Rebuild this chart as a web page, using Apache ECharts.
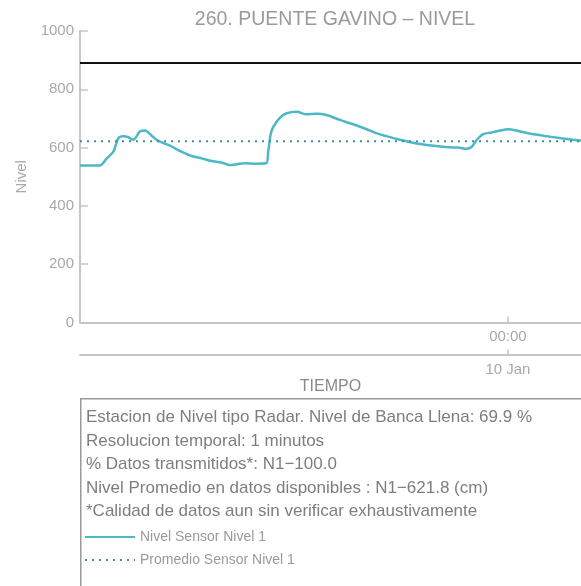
<!DOCTYPE html>
<html>
<head>
<meta charset="utf-8">
<script src="https://cdn.jsdelivr.net/npm/echarts@6/dist/echarts.min.js"></script>
<style>
html,body{margin:0;padding:0;background:#fff;}
#c{width:581px;height:586px;}
</style>
</head>
<body>
<div id="c"></div>
<script>
// ---- data ----
const chartTitle = '260. PUENTE GAVINO \u2013 NIVEL';
const timeMin = '2024-01-09 03:30';
const timeMax = '2024-01-10 03:30';
const levelTimes = [
  '2024-01-09 03:30','2024-01-09 04:27','2024-01-09 04:47','2024-01-09 05:06','2024-01-09 05:20',
  '2024-01-09 05:34','2024-01-09 05:49','2024-01-09 06:03','2024-01-09 06:22','2024-01-09 06:37',
  '2024-01-09 06:56','2024-01-09 07:15','2024-01-09 07:44','2024-01-09 08:22','2024-01-09 08:51',
  '2024-01-09 09:20','2024-01-09 09:48','2024-01-09 10:17','2024-01-09 10:41','2024-01-09 11:05',
  '2024-01-09 11:24','2024-01-09 11:53','2024-01-09 12:25','2024-01-09 12:31','2024-01-09 12:38',
  '2024-01-09 12:46','2024-01-09 13:05','2024-01-09 13:24','2024-01-09 13:53','2024-01-09 14:21',
  '2024-01-09 14:50','2024-01-09 15:19','2024-01-09 15:57','2024-01-09 16:35','2024-01-09 17:14',
  '2024-01-09 17:43','2024-01-09 18:21','2024-01-09 18:50','2024-01-09 19:18','2024-01-09 19:42',
  '2024-01-09 20:21','2024-01-09 21:08','2024-01-09 21:37','2024-01-09 22:01','2024-01-09 22:16',
  '2024-01-09 22:30','2024-01-09 22:49','2024-01-09 23:13','2024-01-09 23:32','2024-01-10 00:01',
  '2024-01-10 00:30','2024-01-10 00:58','2024-01-10 01:46','2024-01-10 02:34','2024-01-10 03:27',
  '2024-01-10 03:30'
];
const levelValues = [
  539,539,563,586,632,
  639,636,627,655,659,
  641,623,609,586,571,
  563,554,549,540,544,
  546,545,546,586,646,
  672,703,718,723,714,
  716,712,695,680,663,
  649,636,627,619,613,
  607,601,600,596,603,
  626,646,652,657,663,
  657,649,640,632,624,
  623
];
const averageLevel = 621.8;
const bankFullLevel = 890;
const yTicks = [0, 200, 400, 600, 800, 1000];
const hourTickTimes = ['2024-01-10 00:00'];
const dayTickTimes = ['2024-01-10 00:00'];
const seriesNames = ['Nivel Sensor Nivel 1', 'Promedio Sensor Nivel 1'];
const infoLines = [
  'Estacion de Nivel tipo Radar. Nivel de Banca Llena: 69.9 %',
  'Resolucion temporal: 1 minutos',
  '% Datos transmitidos*: N1\u2212100.0',
  'Nivel Promedio en datos disponibles : N1\u2212621.8 (cm)',
  '*Calidad de datos aun sin verificar exhaustivamente'
];

// ---- chart ----
const FONT = '"Liberation Sans", Arial, sans-serif';
const AXIS_COLOR = '#c6c6c6';
const LABEL_COLOR = '#a8a8a8';
const toMs = s => { const [d, t] = s.split(' '); const [Y, M, D] = d.split('-').map(Number); const [h, m] = t.split(':').map(Number); return new Date(Y, M - 1, D, h, m).getTime(); };
const MONTHS = ['Jan','Feb','Mar','Apr','May','Jun','Jul','Aug','Sep','Oct','Nov','Dec'];
const pad = n => (n < 10 ? '0' : '') + n;

const levelData = levelTimes.map((t, i) => [toMs(t), levelValues[i]]);
const avgData = [[toMs(timeMin), averageLevel], [toMs(timeMax), averageLevel]];

const chart = echarts.init(document.getElementById('c'), null, { renderer: 'canvas' });

const infoGraphics = infoLines.map((txt, i) => ({
  type: 'text', left: 86, top: 409 + i * 23.5, z: 10,
  style: { text: txt, fill: '#7e7e7e', font: '17px ' + FONT }
}));

chart.setOption({
  animation: false,
  textStyle: { fontFamily: FONT },
  title: {
    text: chartTitle, left: 330, top: 5, textAlign: 'center',
    textStyle: { color: '#9a9a9a', fontSize: 19.5, fontWeight: 'normal', fontFamily: FONT }
  },
  grid: { left: 80, right: 0, top: 31, bottom: 263.5, containLabel: false },
  legend: {
    orient: 'vertical', left: 79, top: 525, itemWidth: 50, itemHeight: 14, itemGap: 9,
    data: seriesNames, itemStyle: { opacity: 0 },
    textStyle: { color: '#9a9a9a', fontSize: 14, fontFamily: FONT }
  },
  xAxis: [
    {
      type: 'value', min: toMs(timeMin), max: toMs(timeMax), position: 'bottom',
      axisLine: { show: true, lineStyle: { color: AXIS_COLOR, width: 2 } },
      axisTick: { show: true, inside: true, length: 6, lineStyle: { color: AXIS_COLOR, width: 1.5 }, customValues: hourTickTimes.map(toMs) },
      axisLabel: {
        color: LABEL_COLOR, fontSize: 15, margin: 7, customValues: hourTickTimes.map(toMs),
        showMinLabel: false, showMaxLabel: false,
        formatter: v => { const d = new Date(v); return pad(d.getHours()) + ':' + pad(d.getMinutes()); }
      },
      splitLine: { show: false }
    },
    {
      type: 'value', min: toMs(timeMin), max: toMs(timeMax), position: 'bottom', offset: 32,
      name: 'TIEMPO', nameLocation: 'middle', nameGap: 23,
      nameTextStyle: { color: '#8a8a8a', fontSize: 16, fontFamily: FONT },
      axisLine: { show: true, lineStyle: { color: AXIS_COLOR, width: 2 } },
      axisTick: { show: true, inside: true, length: 5, lineStyle: { color: AXIS_COLOR, width: 1.5 }, customValues: dayTickTimes.map(toMs) },
      axisLabel: {
        color: LABEL_COLOR, fontSize: 15, margin: 8, customValues: dayTickTimes.map(toMs),
        showMinLabel: false, showMaxLabel: false,
        formatter: v => { const d = new Date(v); return d.getDate() + ' ' + MONTHS[d.getMonth()]; }
      },
      splitLine: { show: false }
    }
  ],
  yAxis: {
    type: 'value', min: yTicks[0], max: yTicks[yTicks.length - 1], interval: yTicks[1] - yTicks[0],
    name: 'Nivel', nameLocation: 'middle', nameGap: 50, nameRotate: 90,
    nameTextStyle: { color: LABEL_COLOR, fontSize: 15, fontFamily: FONT },
    axisLine: { show: true, lineStyle: { color: AXIS_COLOR, width: 2 } },
    axisTick: { show: true, inside: true, length: 8, lineStyle: { color: AXIS_COLOR, width: 1.5 } },
    axisLabel: { color: LABEL_COLOR, fontSize: 15, margin: 6, formatter: v => String(v) },
    splitLine: { show: false }
  },
  series: [
    {
      name: seriesNames[0], type: 'line', xAxisIndex: 0, data: levelData,
      showSymbol: false, symbol: 'none', smooth: 0.3,
      lineStyle: { color: '#4cb8c6', width: 2.5 }, itemStyle: { color: '#4cb8c6' },
      markLine: {
        silent: true, symbol: 'none', label: { show: false },
        lineStyle: { color: '#111', width: 2, type: 'solid' },
        data: [{ yAxis: bankFullLevel }]
      }
    },
    {
      name: seriesNames[1], type: 'line', xAxisIndex: 0, data: avgData,
      showSymbol: false, symbol: 'none',
      lineStyle: { color: '#3d8ea6', width: 2, type: [2, 5] }, itemStyle: { color: '#3d8ea6' }
    }
  ],
  graphic: [
    { type: 'rect', left: 80, top: 398, z: 0, shape: { width: 520, height: 200 }, style: { fill: '#fff', stroke: '#9a9a9a', lineWidth: 1.5 } }
  ].concat(infoGraphics)
});
</script>
</body>
</html>
